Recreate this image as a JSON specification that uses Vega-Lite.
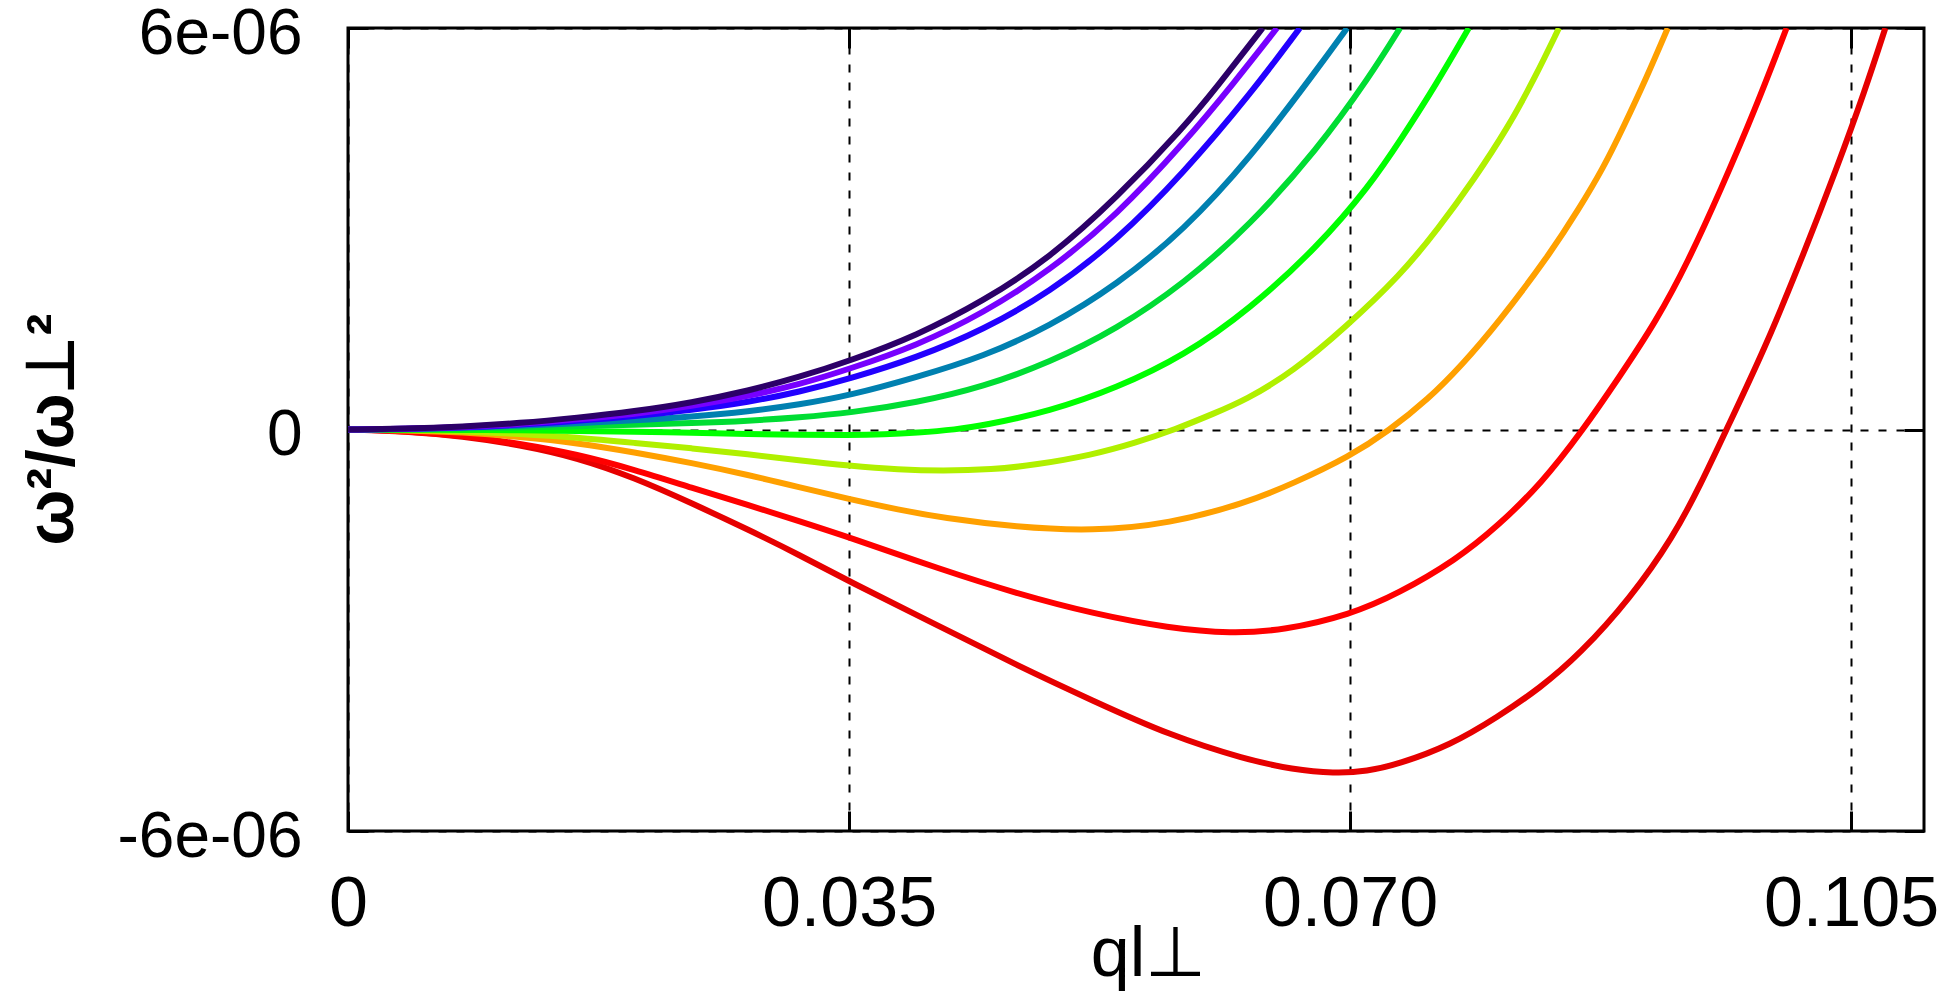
{
  "$schema": "https://vega.github.io/schema/vega-lite/v6.json",
  "width": 1576,
  "height": 803,
  "autosize": {"type": "none"},
  "padding": {"left": 348, "top": 28, "right": 15, "bottom": 168},
  "background": "white",
  "config": {"view": {"stroke": "black", "strokeWidth": 3}},
  "datasets": {
    "curves": [
      {"series": "10", "q": 0, "w2": 0}, {"series": "10", "q": 0.004, "w2": -0.025e-6}, {"series": "10", "q": 0.008, "w2": -0.10e-6},
      {"series": "10", "q": 0.012, "w2": -0.23e-6}, {"series": "10", "q": 0.016, "w2": -0.42e-6}, {"series": "10", "q": 0.020, "w2": -0.72e-6},
      {"series": "10", "q": 0.024, "w2": -1.10e-6}, {"series": "10", "q": 0.028, "w2": -1.50e-6}, {"series": "10", "q": 0.0315, "w2": -1.87e-6},
      {"series": "10", "q": 0.035, "w2": -2.27e-6}, {"series": "10", "q": 0.0414, "w2": -2.95e-6}, {"series": "10", "q": 0.0467, "w2": -3.52e-6},
      {"series": "10", "q": 0.052, "w2": -4.05e-6}, {"series": "10", "q": 0.0574, "w2": -4.57e-6}, {"series": "10", "q": 0.0627, "w2": -4.93e-6},
      {"series": "10", "q": 0.066, "w2": -5.08e-6}, {"series": "10", "q": 0.0689, "w2": -5.14e-6}, {"series": "10", "q": 0.0712, "w2": -5.11e-6},
      {"series": "10", "q": 0.0734, "w2": -5.00e-6}, {"series": "10", "q": 0.077, "w2": -4.72e-6}, {"series": "10", "q": 0.0803, "w2": -4.30e-6},
      {"series": "10", "q": 0.0833, "w2": -3.86e-6}, {"series": "10", "q": 0.086, "w2": -3.37e-6}, {"series": "10", "q": 0.0896, "w2": -2.52e-6},
      {"series": "10", "q": 0.0926, "w2": -1.60e-6}, {"series": "10", "q": 0.0945, "w2": -0.82e-6}, {"series": "10", "q": 0.0963, "w2": 0},
      {"series": "10", "q": 0.099, "w2": 1.22e-6}, {"series": "10", "q": 0.1015, "w2": 2.52e-6}, {"series": "10", "q": 0.104, "w2": 3.90e-6},
      {"series": "10", "q": 0.106, "w2": 5.08e-6}, {"series": "10", "q": 0.1074, "w2": 6.0e-6},

      {"series": "9", "q": 0, "w2": 0}, {"series": "9", "q": 0.004, "w2": -0.02e-6}, {"series": "9", "q": 0.008, "w2": -0.09e-6},
      {"series": "9", "q": 0.012, "w2": -0.21e-6}, {"series": "9", "q": 0.016, "w2": -0.37e-6}, {"series": "9", "q": 0.020, "w2": -0.60e-6},
      {"series": "9", "q": 0.024, "w2": -0.87e-6}, {"series": "9", "q": 0.028, "w2": -1.13e-6}, {"series": "9", "q": 0.0315, "w2": -1.37e-6},
      {"series": "9", "q": 0.035, "w2": -1.61e-6}, {"series": "9", "q": 0.0414, "w2": -2.09e-6}, {"series": "9", "q": 0.0467, "w2": -2.45e-6},
      {"series": "9", "q": 0.052, "w2": -2.75e-6}, {"series": "9", "q": 0.0574, "w2": -2.97e-6}, {"series": "9", "q": 0.0617, "w2": -3.05e-6},
      {"series": "9", "q": 0.0654, "w2": -3.00e-6}, {"series": "9", "q": 0.070, "w2": -2.77e-6}, {"series": "9", "q": 0.0734, "w2": -2.45e-6},
      {"series": "9", "q": 0.0774, "w2": -1.95e-6}, {"series": "9", "q": 0.0803, "w2": -1.45e-6}, {"series": "9", "q": 0.0834, "w2": -0.80e-6},
      {"series": "9", "q": 0.0862, "w2": -0.03e-6}, {"series": "9", "q": 0.0888, "w2": 0.78e-6}, {"series": "9", "q": 0.0914, "w2": 1.62e-6},
      {"series": "9", "q": 0.0936, "w2": 2.50e-6}, {"series": "9", "q": 0.0959, "w2": 3.58e-6}, {"series": "9", "q": 0.0983, "w2": 4.78e-6},
      {"series": "9", "q": 0.1005, "w2": 6.0e-6},

      {"series": "8", "q": 0, "w2": 0}, {"series": "8", "q": 0.004, "w2": -0.01e-6}, {"series": "8", "q": 0.008, "w2": -0.04e-6},
      {"series": "8", "q": 0.012, "w2": -0.11e-6}, {"series": "8", "q": 0.016, "w2": -0.20e-6}, {"series": "8", "q": 0.020, "w2": -0.34e-6},
      {"series": "8", "q": 0.024, "w2": -0.50e-6}, {"series": "8", "q": 0.028, "w2": -0.68e-6}, {"series": "8", "q": 0.0315, "w2": -0.86e-6},
      {"series": "8", "q": 0.035, "w2": -1.04e-6}, {"series": "8", "q": 0.0385, "w2": -1.20e-6}, {"series": "8", "q": 0.0415, "w2": -1.32e-6},
      {"series": "8", "q": 0.0467, "w2": -1.46e-6}, {"series": "8", "q": 0.052, "w2": -1.52e-6}, {"series": "8", "q": 0.0574, "w2": -1.41e-6},
      {"series": "8", "q": 0.0627, "w2": -1.10e-6}, {"series": "8", "q": 0.066, "w2": -0.81e-6}, {"series": "8", "q": 0.070, "w2": -0.40e-6},
      {"series": "8", "q": 0.0727, "w2": -0.02e-6}, {"series": "8", "q": 0.0755, "w2": 0.46e-6}, {"series": "8", "q": 0.0778, "w2": 0.96e-6},
      {"series": "8", "q": 0.0803, "w2": 1.58e-6}, {"series": "8", "q": 0.0839, "w2": 2.60e-6}, {"series": "8", "q": 0.086, "w2": 3.30e-6},
      {"series": "8", "q": 0.0877, "w2": 3.91e-6}, {"series": "8", "q": 0.0891, "w2": 4.52e-6}, {"series": "8", "q": 0.0907, "w2": 5.25e-6},
      {"series": "8", "q": 0.0922, "w2": 6.0e-6},

      {"series": "7", "q": 0, "w2": 0}, {"series": "7", "q": 0.004, "w2": -0.006e-6}, {"series": "7", "q": 0.008, "w2": -0.025e-6},
      {"series": "7", "q": 0.012, "w2": -0.065e-6}, {"series": "7", "q": 0.016, "w2": -0.12e-6}, {"series": "7", "q": 0.020, "w2": -0.20e-6},
      {"series": "7", "q": 0.024, "w2": -0.28e-6}, {"series": "7", "q": 0.028, "w2": -0.37e-6}, {"series": "7", "q": 0.0315, "w2": -0.46e-6},
      {"series": "7", "q": 0.035, "w2": -0.54e-6}, {"series": "7", "q": 0.0385, "w2": -0.60e-6}, {"series": "7", "q": 0.0415, "w2": -0.62e-6},
      {"series": "7", "q": 0.045, "w2": -0.60e-6}, {"series": "7", "q": 0.048, "w2": -0.53e-6}, {"series": "7", "q": 0.052, "w2": -0.38e-6},
      {"series": "7", "q": 0.055, "w2": -0.20e-6}, {"series": "7", "q": 0.0578, "w2": 0}, {"series": "7", "q": 0.0605, "w2": 0.24e-6},
      {"series": "7", "q": 0.0627, "w2": 0.44e-6}, {"series": "7", "q": 0.066, "w2": 0.86e-6}, {"series": "7", "q": 0.0697, "w2": 1.53e-6},
      {"series": "7", "q": 0.0735, "w2": 2.30e-6}, {"series": "7", "q": 0.0762, "w2": 3.01e-6}, {"series": "7", "q": 0.0787, "w2": 3.75e-6},
      {"series": "7", "q": 0.081, "w2": 4.50e-6}, {"series": "7", "q": 0.0829, "w2": 5.25e-6}, {"series": "7", "q": 0.0846, "w2": 6.0e-6},

      {"series": "6", "q": 0, "w2": 0}, {"series": "6", "q": 0.004, "w2": -0.002e-6}, {"series": "6", "q": 0.008, "w2": -0.006e-6},
      {"series": "6", "q": 0.012, "w2": -0.012e-6}, {"series": "6", "q": 0.016, "w2": -0.02e-6}, {"series": "6", "q": 0.020, "w2": -0.032e-6},
      {"series": "6", "q": 0.024, "w2": -0.05e-6}, {"series": "6", "q": 0.028, "w2": -0.068e-6}, {"series": "6", "q": 0.0315, "w2": -0.08e-6},
      {"series": "6", "q": 0.035, "w2": -0.085e-6}, {"series": "6", "q": 0.0375, "w2": -0.075e-6}, {"series": "6", "q": 0.0397, "w2": -0.05e-6},
      {"series": "6", "q": 0.0425, "w2": 0}, {"series": "6", "q": 0.0444, "w2": 0.06e-6}, {"series": "6", "q": 0.049, "w2": 0.27e-6},
      {"series": "6", "q": 0.0537, "w2": 0.62e-6}, {"series": "6", "q": 0.0584, "w2": 1.10e-6}, {"series": "6", "q": 0.063, "w2": 1.80e-6},
      {"series": "6", "q": 0.0677, "w2": 2.72e-6}, {"series": "6", "q": 0.0714, "w2": 3.65e-6}, {"series": "6", "q": 0.0736, "w2": 4.35e-6},
      {"series": "6", "q": 0.076, "w2": 5.15e-6}, {"series": "6", "q": 0.0783, "w2": 6.0e-6},

      {"series": "5", "q": 0, "w2": 0}, {"series": "5", "q": 0.004, "w2": 0.003e-6}, {"series": "5", "q": 0.008, "w2": 0.012e-6},
      {"series": "5", "q": 0.012, "w2": 0.028e-6}, {"series": "5", "q": 0.016, "w2": 0.05e-6}, {"series": "5", "q": 0.020, "w2": 0.07e-6},
      {"series": "5", "q": 0.024, "w2": 0.095e-6}, {"series": "5", "q": 0.028, "w2": 0.13e-6}, {"series": "5", "q": 0.0315, "w2": 0.18e-6},
      {"series": "5", "q": 0.0351, "w2": 0.25e-6}, {"series": "5", "q": 0.0397, "w2": 0.40e-6}, {"series": "5", "q": 0.0444, "w2": 0.64e-6},
      {"series": "5", "q": 0.049, "w2": 1.00e-6}, {"series": "5", "q": 0.0537, "w2": 1.50e-6}, {"series": "5", "q": 0.0584, "w2": 2.18e-6},
      {"series": "5", "q": 0.063, "w2": 3.05e-6}, {"series": "5", "q": 0.0677, "w2": 4.18e-6}, {"series": "5", "q": 0.0714, "w2": 5.28e-6},
      {"series": "5", "q": 0.0735, "w2": 6.0e-6},

      {"series": "4", "q": 0, "w2": 0}, {"series": "4", "q": 0.004, "w2": 0.006e-6}, {"series": "4", "q": 0.008, "w2": 0.025e-6},
      {"series": "4", "q": 0.012, "w2": 0.055e-6}, {"series": "4", "q": 0.016, "w2": 0.095e-6}, {"series": "4", "q": 0.020, "w2": 0.135e-6},
      {"series": "4", "q": 0.024, "w2": 0.19e-6}, {"series": "4", "q": 0.028, "w2": 0.27e-6}, {"series": "4", "q": 0.0315, "w2": 0.37e-6},
      {"series": "4", "q": 0.0351, "w2": 0.51e-6}, {"series": "4", "q": 0.0397, "w2": 0.78e-6}, {"series": "4", "q": 0.0444, "w2": 1.09e-6},
      {"series": "4", "q": 0.049, "w2": 1.54e-6}, {"series": "4", "q": 0.0537, "w2": 2.16e-6}, {"series": "4", "q": 0.0584, "w2": 2.98e-6},
      {"series": "4", "q": 0.063, "w2": 4.05e-6}, {"series": "4", "q": 0.0677, "w2": 5.38e-6}, {"series": "4", "q": 0.0698, "w2": 6.0e-6},

      {"series": "3", "q": 0, "w2": 0}, {"series": "3", "q": 0.004, "w2": 0.007e-6}, {"series": "3", "q": 0.008, "w2": 0.030e-6},
      {"series": "3", "q": 0.012, "w2": 0.07e-6}, {"series": "3", "q": 0.016, "w2": 0.13e-6}, {"series": "3", "q": 0.020, "w2": 0.20e-6},
      {"series": "3", "q": 0.024, "w2": 0.29e-6}, {"series": "3", "q": 0.028, "w2": 0.41e-6}, {"series": "3", "q": 0.0315, "w2": 0.56e-6},
      {"series": "3", "q": 0.0351, "w2": 0.76e-6}, {"series": "3", "q": 0.0397, "w2": 1.07e-6}, {"series": "3", "q": 0.0444, "w2": 1.49e-6},
      {"series": "3", "q": 0.049, "w2": 2.05e-6}, {"series": "3", "q": 0.0537, "w2": 2.82e-6}, {"series": "3", "q": 0.0584, "w2": 3.84e-6},
      {"series": "3", "q": 0.063, "w2": 5.00e-6}, {"series": "3", "q": 0.0665, "w2": 6.0e-6},

      {"series": "2", "q": 0, "w2": 0}, {"series": "2", "q": 0.004, "w2": 0.008e-6}, {"series": "2", "q": 0.008, "w2": 0.035e-6},
      {"series": "2", "q": 0.012, "w2": 0.08e-6}, {"series": "2", "q": 0.016, "w2": 0.15e-6}, {"series": "2", "q": 0.020, "w2": 0.23e-6},
      {"series": "2", "q": 0.024, "w2": 0.35e-6}, {"series": "2", "q": 0.028, "w2": 0.50e-6}, {"series": "2", "q": 0.0315, "w2": 0.67e-6},
      {"series": "2", "q": 0.0351, "w2": 0.91e-6}, {"series": "2", "q": 0.0397, "w2": 1.25e-6}, {"series": "2", "q": 0.0444, "w2": 1.74e-6},
      {"series": "2", "q": 0.049, "w2": 2.37e-6}, {"series": "2", "q": 0.0537, "w2": 3.20e-6}, {"series": "2", "q": 0.0584, "w2": 4.28e-6},
      {"series": "2", "q": 0.0619, "w2": 5.18e-6}, {"series": "2", "q": 0.0649, "w2": 6.0e-6},

      {"series": "1", "q": 0, "w2": 0}, {"series": "1", "q": 0.004, "w2": 0.010e-6}, {"series": "1", "q": 0.008, "w2": 0.042e-6},
      {"series": "1", "q": 0.012, "w2": 0.095e-6}, {"series": "1", "q": 0.016, "w2": 0.175e-6}, {"series": "1", "q": 0.020, "w2": 0.27e-6},
      {"series": "1", "q": 0.024, "w2": 0.40e-6}, {"series": "1", "q": 0.028, "w2": 0.58e-6}, {"series": "1", "q": 0.0315, "w2": 0.78e-6},
      {"series": "1", "q": 0.0351, "w2": 1.03e-6}, {"series": "1", "q": 0.0397, "w2": 1.40e-6}, {"series": "1", "q": 0.0444, "w2": 1.92e-6},
      {"series": "1", "q": 0.049, "w2": 2.56e-6}, {"series": "1", "q": 0.0537, "w2": 3.46e-6}, {"series": "1", "q": 0.0584, "w2": 4.52e-6},
      {"series": "1", "q": 0.0607, "w2": 5.12e-6}, {"series": "1", "q": 0.0639, "w2": 6.0e-6}
    ]
  },
  "data": {"name": "curves"},
  "layer": [
    {
      "mark": {"type": "line", "strokeWidth": 6, "clip": true, "interpolate": "basis"},
      "encoding": {
        "x": {
          "field": "q",
          "type": "quantitative",
          "scale": {"domain": [0, 0.1101], "nice": false, "zero": false},
          "axis": {
            "orient": "bottom",
            "values": [0, 0.035, 0.07, 0.105],
            "labelExpr": "datum.value == 0 ? '0' : format(datum.value, '.3f')",
            "grid": true,
            "gridColor": "black",
            "gridDash": [8, 10],
            "gridWidth": 2,
            "gridOpacity": 1,
            "domain": false,
            "tickSize": -20,
            "tickWidth": 3,
            "tickColor": "black",
            "labelFont": "Liberation Sans",
            "labelFontSize": 70,
            "labelColor": "black",
            "labelPadding": 59,
            "labelOverlap": false,
            "labelFlush": false,
            "labelLimit": 0,
            "title": "ql⊥",
            "titleFont": "Liberation Sans",
            "titleFontSize": 70,
            "titleFontWeight": "normal",
            "titleColor": "black",
            "titleX": 800,
            "titleY": 144,
            "titleAlign": "center",
            "titleBaseline": "alphabetic"
          }
        },
        "y": {
          "field": "w2",
          "type": "quantitative",
          "scale": {"domain": [-6e-6, 6e-6], "nice": false, "zero": false},
          "axis": {
            "orient": "left",
            "values": [-6e-6, 0, 6e-6],
            "labelExpr": "datum.value == 0 ? '0' : replace(replace(format(datum.value, '.0e'), 'e-', 'e-0'), '−', '-')",
            "grid": true,
            "gridColor": "black",
            "gridDash": [8, 10],
            "gridWidth": 2,
            "gridOpacity": 1,
            "domain": false,
            "tickSize": -20,
            "tickWidth": 3,
            "tickColor": "black",
            "labelFont": "Liberation Sans",
            "labelFontSize": 64,
            "labelColor": "black",
            "labelPadding": 66,
            "labelOffset": 6,
            "labelOverlap": false,
            "labelFlush": false,
            "labelLimit": 0,
            "labelBaseline": "middle",
            "title": "ω²/ω⊥²",
            "titleFont": "Liberation Sans",
            "titleFontSize": 66,
            "titleFontWeight": "bold",
            "titleColor": "black",
            "titleAngle": 270,
            "titleX": -276,
            "titleY": 401,
            "titleAlign": "center",
            "titleBaseline": "alphabetic",
            "titleLimit": 0
          }
        },
        "color": {
          "field": "series",
          "type": "nominal",
          "scale": {
            "domain": ["10", "9", "8", "7", "6", "5", "4", "3", "2", "1"],
            "range": ["#e60000", "#ff0000", "#ffa000", "#b0f000", "#00ff00", "#00dd33", "#0080b0", "#2200ff", "#7700ff", "#2c0068"]
          },
          "legend": null
        }
      }
    },
    {
      "mark": {"type": "line", "strokeOpacity": 0, "clip": true},
      "encoding": {
        "x": {
          "field": "q",
          "type": "quantitative",
          "axis": {
            "orient": "top",
            "values": [0, 0.035, 0.07, 0.105],
            "labels": false,
            "grid": false,
            "domain": false,
            "tickSize": -20,
            "tickWidth": 3,
            "tickColor": "black",
            "title": null
          }
        },
        "y": {
          "field": "w2",
          "type": "quantitative",
          "axis": {
            "orient": "right",
            "values": [-6e-6, 0, 6e-6],
            "labels": false,
            "grid": false,
            "domain": false,
            "tickSize": -20,
            "tickWidth": 3,
            "tickColor": "black",
            "title": null
          }
        },
        "detail": {"field": "series"}
      }
    }
  ],
  "resolve": {"axis": {"x": "independent", "y": "independent"}}
}
